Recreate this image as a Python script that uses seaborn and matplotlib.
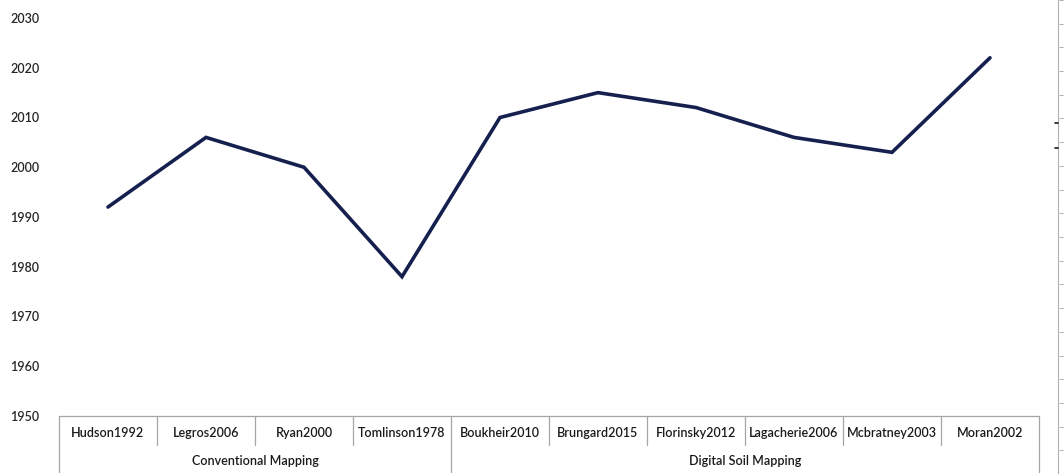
import matplotlib
matplotlib.use("Agg")
import matplotlib.pyplot as plt
import matplotlib.transforms as mtransforms
import seaborn as sns
import pandas as pd

studies = ["Hudson1992", "Legros2006", "Ryan2000", "Tomlinson1978", "Boukheir2010",
           "Brungard2015", "Florinsky2012", "Lagacherie2006", "Mcbratney2003", "Moran2002"]
groups = ["Conventional Mapping"] * 4 + ["Digital Soil Mapping"] * 6
years = [1992, 2006, 2000, 1978, 2010, 2015, 2012, 2006, 2003, 2022]
y_ticks = [1950, 1960, 1970, 1980, 1990, 2000, 2010, 2020, 2030]

sns.set_theme(style="white")
plt.rcParams["font.family"] = ["Lato", "DejaVu Sans"]

df = pd.DataFrame({"study": studies, "group": groups, "year": years})
df["pos"] = range(len(df))

W, H = 1064, 474
fig = plt.figure(figsize=(W / 100, H / 100), dpi=100)
ax = fig.add_axes([59 / W, (H - 416) / H, (1039 - 59) / W, (416 - 18) / H])

sns.lineplot(data=df, x="pos", y="year", ax=ax, color="#15204f", linewidth=2.6,
             solid_joinstyle="miter")

ax.set_xlim(-0.5, len(studies) - 0.5)
ax.set_ylim(1950, 2030)
ax.set_yticks(y_ticks)
ax.set_yticklabels([str(t) for t in y_ticks], fontsize=9, color="#262626",
                   fontweight="semibold")
ax.tick_params(axis="y", length=0, pad=14)
ax.set_xticks([])
ax.set_xlabel("")
ax.set_ylabel("")
for s in ["top", "right", "left"]:
    ax.spines[s].set_visible(False)
ax.spines["bottom"].set_color("#a6a6a6")
ax.spines["bottom"].set_linewidth(0.9)

trans = mtransforms.blended_transform_factory(ax.transData, ax.transAxes)
ph = (416 - 18)  # axes height in px
def ya(px_below):
    return -px_below / ph

# category labels
for i, name in enumerate(studies):
    ax.text(i, ya(17), name, transform=trans, ha="center", va="center",
            fontsize=9, color="#1a1a1a", fontweight="semibold")

# separators
group_bounds = [0]
for i in range(1, len(groups)):
    if groups[i] != groups[i - 1]:
        group_bounds.append(i)
group_bounds.append(len(groups))

for i in range(len(studies) + 1):
    full = i in group_bounds
    ax.plot([i - 0.5, i - 0.5], [0, ya(56 if full else 29)], transform=trans,
            color="#a6a6a6", linewidth=0.9, clip_on=False)

# group labels
for a, b in zip(group_bounds[:-1], group_bounds[1:]):
    ax.text((a + b - 1) / 2, ya(45), groups[a], transform=trans, ha="center",
            va="center", fontsize=9, color="#1a1a1a", fontweight="semibold")

# right-edge axis remnant
ax2 = fig.add_axes([1058 / W, 0.0, 0.001, 1.0])
ax2.set_facecolor("none")
for s in ["top", "right", "bottom"]:
    ax2.spines[s].set_visible(False)
ax2.spines["left"].set_color("#b0b0b0")
ax2.spines["left"].set_linewidth(0.8)
ax2.set_ylim(0, 20)
ax2.set_xticks([])
ax2.yaxis.tick_right()
ax2.set_yticks(range(0, 21))
ax2.set_yticklabels([])
ax2.tick_params(axis="y", direction="out", length=3, color="#b0b0b0", width=0.7)
for yy in [123, 148]:
    fig.add_artist(plt.Line2D([1055 / W, 1058 / W], [(H - yy) / H, (H - yy) / H],
                              color="#1a1a1a", linewidth=1.2))

fig.savefig("out.png", dpi=100)
